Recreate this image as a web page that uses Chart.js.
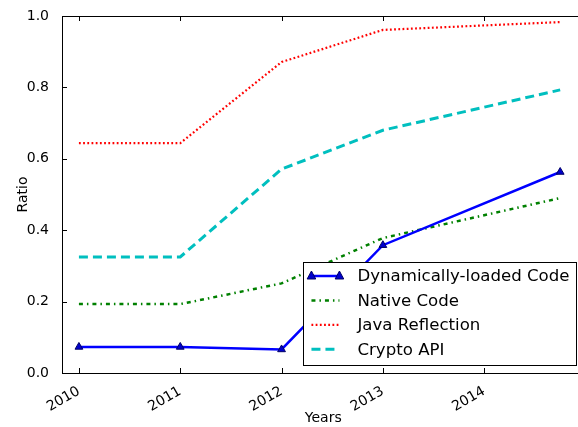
<!DOCTYPE html>
<html>
<head>
<meta charset="utf-8">
<script src="https://cdn.jsdelivr.net/npm/chart.js@4.4.1/dist/chart.umd.min.js"></script>
<style>
  html, body { margin: 0; padding: 0; background: #fff; overflow: hidden; }
  #wrap { width: 590px; height: 427px; }
</style>
</head>
<body>
<div id="wrap"><canvas id="chart" width="590" height="427"></canvas></div>
<script>
// data
const years = [2010, 2011, 2012, 2013, 2014.75];
const yearTicks = [2010, 2011, 2012, 2013, 2014];
const ratioTicks = [0.0, 0.2, 0.4, 0.6, 0.8, 1.0];
const dynamicCode = [0.073, 0.073, 0.066, 0.358, 0.563];
const nativeCode = [0.193, 0.193, 0.251, 0.378, 0.49];
const javaReflection = [0.644, 0.644, 0.871, 0.961, 0.983];
const cryptoApi = [0.325, 0.325, 0.571, 0.68, 0.793];

const FONT = 'DejaVu Sans';

function toPoints(values) {
    return values.map((v, i) => ({ x: years[i], y: v }));
}

// frame, inward ticks and a legend inside the plot (lower right)
const boxLegend = {
    id: 'boxLegend',
    afterDraw(chart) {
        const ctx = chart.ctx;
        const area = chart.chartArea;
        const xs = chart.scales.x, ys = chart.scales.y;

        ctx.save();
        ctx.strokeStyle = '#000';
        ctx.lineWidth = 1;
        ctx.strokeRect(Math.round(area.left) + 0.5, Math.round(area.top) + 0.5,
            Math.round(area.right - area.left), Math.round(area.bottom - area.top));

        ctx.beginPath();
        yearTicks.forEach(t => {
            const px = Math.round(xs.getPixelForValue(t)) + 0.5;
            ctx.moveTo(px, area.bottom); ctx.lineTo(px, area.bottom - 5);
            ctx.moveTo(px, area.top); ctx.lineTo(px, area.top + 5);
        });
        ratioTicks.forEach(t => {
            const py = Math.round(ys.getPixelForValue(t)) + 0.5;
            ctx.moveTo(area.left, py); ctx.lineTo(area.left + 5, py);
            ctx.moveTo(area.right, py); ctx.lineTo(area.right - 5, py);
        });
        ctx.stroke();

        const sets = chart.data.datasets;
        ctx.font = '16.6px "' + FONT + '"';
        const textW = Math.max(...sets.map(d => ctx.measureText(d.label).width));
        const right = area.right - 8, bottom = area.bottom - 8;
        const top = bottom - 103;
        const left = right - 7 - textW - 54;
        ctx.fillStyle = '#fff';
        ctx.fillRect(left, top, right - left, bottom - top);
        ctx.strokeStyle = '#000';
        ctx.lineWidth = 1;
        ctx.setLineDash([]);
        ctx.strokeRect(Math.round(left) + 0.5, Math.round(top) + 0.5,
            Math.round(right - left), Math.round(bottom - top));

        sets.forEach((d, i) => {
            const cy = top + 14 + i * 24.4;
            const x0 = left + 8, x1 = left + 36;
            ctx.beginPath();
            ctx.strokeStyle = d.borderColor;
            ctx.lineWidth = d.borderWidth;
            ctx.setLineDash(d.borderDash || []);
            ctx.moveTo(x0, cy); ctx.lineTo(x1, cy);
            ctx.stroke();
            ctx.setLineDash([]);
            if (d.pointRadius > 0) {
                [x0, x1].forEach(px => {
                    ctx.beginPath();
                    ctx.moveTo(px, cy - 5);
                    ctx.lineTo(px + 4.3, cy + 3);
                    ctx.lineTo(px - 4.3, cy + 3);
                    ctx.closePath();
                    ctx.fillStyle = d.pointBackgroundColor;
                    ctx.fill();
                    ctx.strokeStyle = d.pointBorderColor;
                    ctx.lineWidth = 1;
                    ctx.stroke();
                });
            }
            ctx.fillStyle = '#000';
            ctx.textBaseline = 'middle';
            ctx.textAlign = 'left';
            ctx.fillText(d.label, left + 54, cy + 1);
        });
        ctx.restore();
    }
};

new Chart(document.getElementById('chart'), {
    type: 'line',
    data: {
        datasets: [
            {
                label: 'Dynamically-loaded Code',
                data: toPoints(dynamicCode),
                borderColor: '#0000ff',
                borderWidth: 2.5,
                pointStyle: 'triangle',
                pointRadius: 4.5,
                pointBackgroundColor: '#0000cc',
                pointBorderColor: '#000066',
                pointBorderWidth: 1
            },
            {
                label: 'Native Code',
                data: toPoints(nativeCode),
                borderColor: '#008000',
                borderWidth: 2.5,
                borderDash: [4, 4, 1.5, 4],
                pointRadius: 0
            },
            {
                label: 'Java Reflection',
                data: toPoints(javaReflection),
                borderColor: '#ff0000',
                borderWidth: 2.2,
                borderDash: [1.8, 2.4],
                pointRadius: 0
            },
            {
                label: 'Crypto API',
                data: toPoints(cryptoApi),
                borderColor: '#00bfbf',
                borderWidth: 3,
                borderDash: [9, 5],
                pointRadius: 0
            }
        ]
    },
    options: {
        responsive: false,
        animation: false,
        layout: { padding: { top: 16, right: 2, left: 0, bottom: 0 } },
        plugins: {
            legend: { display: false },
            tooltip: { enabled: false }
        },
        elements: { line: { tension: 0 } },
        scales: {
            x: {
                type: 'linear',
                min: 2009.833,
                max: 2014.99,
                afterBuildTicks: s => { s.ticks = yearTicks.map(v => ({ value: v })); },
                afterFit: s => { s.height = 54; },
                grid: { display: false },
                border: { display: false },
                ticks: {
                    minRotation: 30,
                    maxRotation: 30,
                    padding: 2,
                    color: '#000',
                    font: { family: FONT, size: 14 },
                    callback: v => String(v)
                },
                title: {
                    display: true,
                    text: 'Years',
                    color: '#000',
                    padding: { top: 5, bottom: 0 },
                    font: { family: FONT, size: 14 }
                }
            },
            y: {
                min: 0,
                max: 1,
                afterBuildTicks: s => { s.ticks = ratioTicks.map(v => ({ value: v })); },
                afterFit: s => { s.width = 62; },
                grid: { display: false },
                border: { display: false },
                ticks: {
                    padding: 5,
                    color: '#000',
                    font: { family: FONT, size: 14 },
                    callback: v => v.toFixed(1)
                },
                title: {
                    display: true,
                    text: 'Ratio',
                    color: '#000',
                    padding: { top: 15, bottom: 4 },
                    font: { family: FONT, size: 14 }
                }
            }
        }
    },
    plugins: [boxLegend]
});
</script>
</body>
</html>
